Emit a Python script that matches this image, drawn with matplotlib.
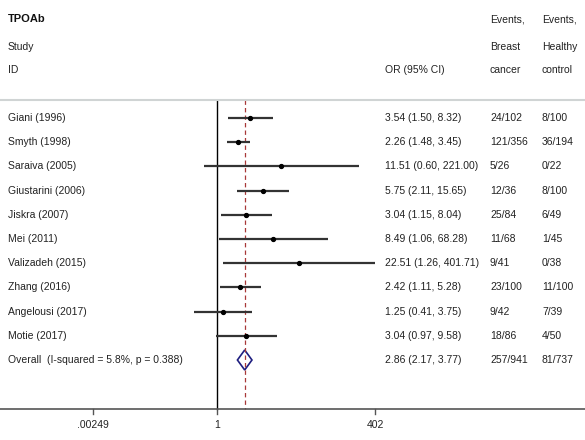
import numpy as np
import matplotlib.pyplot as plt
from matplotlib.patches import Polygon

plt.rcParams['font.family'] = ['Liberation Sans', 'DejaVu Sans']

# data
studies = ["Giani (1996)", "Smyth (1998)", "Saraiva (2005)", "Giustarini (2006)",
           "Jiskra (2007)", "Mei (2011)", "Valizadeh (2015)", "Zhang (2016)",
           "Angelousi (2017)", "Motie (2017)"]
or_est = [3.54, 2.26, 11.51, 5.75, 3.04, 8.49, 22.51, 2.42, 1.25, 3.04]
ci_lo = [1.50, 1.48, 0.60, 2.11, 1.15, 1.06, 1.26, 1.11, 0.41, 0.97]
ci_hi = [8.32, 3.45, 221.00, 15.65, 8.04, 68.28, 401.71, 5.28, 3.75, 9.58]
ev_case = ["24/102", "121/356", "5/26", "12/36", "25/84", "11/68", "9/41",
           "23/100", "9/42", "18/86"]
ev_ctrl = ["8/100", "36/194", "0/22", "8/100", "6/49", "1/45", "0/38",
           "11/100", "7/39", "4/50"]
overall_label = "Overall  (I-squared = 5.8%, p = 0.388)"
overall = [2.86, 2.17, 3.77]
overall_case = "257/941"
overall_ctrl = "81/737"
tick_labels = [".00249", "1", "402"]

W, H = 585, 440
fig = plt.figure(figsize=(W / 100, H / 100), dpi=100)

# log axis for the forest part, y in pixels from top
ax = fig.add_axes([0, 0, 1, 1])
ax.set_xscale('log')
k = 158 / np.log(402)           # pixels per ln unit
ax.set_xlim(np.exp(-217 / k), np.exp((W - 217) / k))
ax.set_ylim(H, 0)
ax.axis('off')

# overlay in plain pixels for the text columns
tx = fig.add_axes([0, 0, 1, 1])
tx.set_xlim(0, W)
tx.set_ylim(H, 0)
tx.axis('off')
tx.patch.set_alpha(0)

row0, step = 118, 24.2
ys = [row0 + i * step for i in range(len(studies))]
y_all = row0 + len(studies) * step
top, base = 100, 409

txt = dict(fontsize=7.5, color='#222222', va='center')
x_study, x_or, x_case, x_ctrl = 8, 385, 490, 542

# headers
tx.text(x_study, 19, "TPOAb", fontsize=8, fontweight='bold', color='#111111', va='center')
tx.text(x_study, 47, "Study", **txt)
tx.text(x_study, 70, "ID", **txt)
tx.text(x_or, 70, "OR (95% CI)", **txt)
tx.text(x_case, 19, "Events,", **txt)
tx.text(x_case, 47, "Breast", **txt)
tx.text(x_case, 70, "cancer", **txt)
tx.text(x_ctrl, 19, "Events,", **txt)
tx.text(x_ctrl, 47, "Healthy", **txt)
tx.text(x_ctrl, 70, "control", **txt)
tx.plot([0, W], [top, top], color='#d0d4d4', lw=1.5)

# reference lines
ax.plot([1, 1], [top, base], color='black', lw=1)
ax.plot([overall[0]] * 2, [top, base], color='#a83838', lw=0.9, dashes=(3.5, 2.5))

# study rows
for i, y in enumerate(ys):
    ax.plot([ci_lo[i], ci_hi[i]], [y, y], color='#333333', lw=1.6, solid_capstyle='butt')
    ax.plot(or_est[i], y, 'o', color='black', ms=2.8)
    tx.text(x_study, y, studies[i], **txt)
    tx.text(x_or, y, "%.2f (%.2f, %.2f)" % (or_est[i], ci_lo[i], ci_hi[i]), **txt)
    tx.text(x_case, y, ev_case[i], **txt)
    tx.text(x_ctrl, y, ev_ctrl[i], **txt)

# overall diamond
est, lo, hi = overall
ax.add_patch(Polygon([(lo, y_all), (est, y_all - 10), (hi, y_all), (est, y_all + 10)],
                     closed=True, fill=False, edgecolor='#1f1f80', lw=1.2))
tx.text(x_study, y_all, overall_label, **txt)
tx.text(x_or, y_all, "%.2f (%.2f, %.2f)" % tuple(overall), **txt)
tx.text(x_case, y_all, overall_case, **txt)
tx.text(x_ctrl, y_all, overall_ctrl, **txt)

# bottom axis
tick_pos = [np.exp((93 - 217) / k), 1, 402]
ax.plot(ax.get_xlim(), [base, base], color='#555555', lw=1.2)
for p, lab in zip(tick_pos, tick_labels):
    ax.plot([p, p], [base, base + 5], color='#555555', lw=1)
    ax.text(p, 425, lab, ha='center', va='center', fontsize=7.5, color='#222222')

fig.savefig('out.png', dpi=100)
